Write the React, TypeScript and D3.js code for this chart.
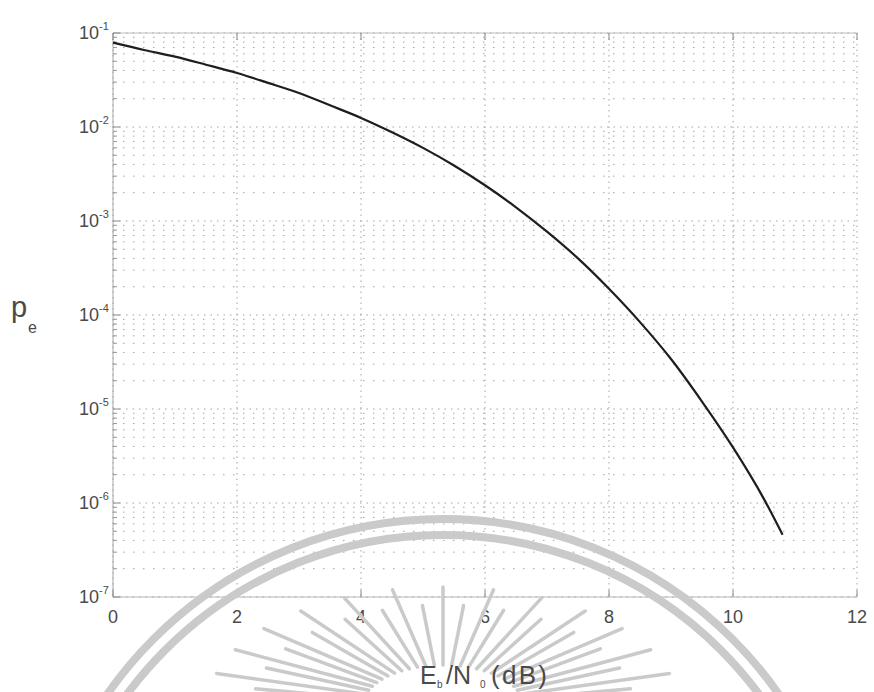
import React from "react";
import * as d3 from "d3";

const ebn0Db = [0, 0.5, 1, 1.5, 2, 2.5, 3, 3.5, 4, 4.5, 5, 5.5, 6, 6.5, 7, 7.5, 8, 8.5, 9, 9.5, 10, 10.5, 10.8];
const peValues = [7.9e-2, 6.6e-2, 5.6e-2, 4.6e-2, 3.75e-2, 2.95e-2, 2.3e-2, 1.7e-2, 1.25e-2, 8.8e-3, 6.0e-3, 3.9e-3, 2.4e-3, 1.4e-3, 7.7e-4, 4.0e-4, 1.9e-4, 8.4e-5, 3.4e-5, 1.2e-5, 3.9e-6, 1.1e-6, 4.6e-7];
const xTickValues = [0, 2, 4, 6, 8, 10, 12];
const yDecadeExponents = [-1, -2, -3, -4, -5, -6, -7];

const W = 874;
const H = 692;
const left = 113, right = 857, top = 33, bottom = 597;

export default function App() {
  const x = d3.scaleLinear().domain([0, 12]).range([left, right]);
  const y = d3.scaleLog().domain([1e-7, 1e-1]).range([bottom, top]);

  const pts = ebn0Db.map((d, i) => [d, peValues[i]] as [number, number]);
  const line = d3.line<[number, number]>().x(d => x(d[0])).y(d => y(d[1])).curve(d3.curveMonotoneX);

  const minorVals: number[] = [];
  for (let e = -7; e < -1; e++) {
    for (let m = 2; m <= 9; m++) minorVals.push(m * Math.pow(10, e));
  }
  const majorVals = yDecadeExponents.map(e => Math.pow(10, e));

  // watermark geometry
  const ringCx = 443, ringCy = 928;
  const rayCx = 443, rayCy = 705;
  const rays: { x1: number; y1: number; x2: number; y2: number }[] = [];
  const nRays = 29;
  for (let i = 0; i < nRays; i++) {
    const a = Math.PI + (Math.PI * (i + 0.5)) / nRays;
    const long = i % 2 === 0;
    const rxo = long ? 235 : 190, ryo = long ? 118 : 100;
    const rxi = 80, ryi = 40;
    rays.push({
      x1: rayCx + Math.cos(a) * rxi,
      y1: rayCy + Math.sin(a) * ryi,
      x2: rayCx + Math.cos(a) * rxo,
      y2: rayCy + Math.sin(a) * ryo,
    });
  }

  const gridColor = "#a2a2a2";
  const textColor = "#4a4a4a";
  const wm = "#cacaca";
  const font = "'Liberation Sans', Arial, Helvetica, sans-serif";

  return (
    <svg width={W} height={H} style={{ position: "absolute", left: 0, top: 0, background: "#fff" }} fontFamily={font}>
      <rect x={0} y={0} width={W} height={H} fill="#fff" />
      {minorVals.map((v, i) => (
        <line key={"mn" + i} x1={left} x2={right} y1={y(v)} y2={y(v)} stroke={gridColor} strokeWidth={1} strokeDasharray="1.5 8.5" />
      ))}
      {majorVals.map((v, i) => (
        <line key={"mj" + i} x1={left} x2={right} y1={y(v)} y2={y(v)} stroke={gridColor} strokeWidth={1} strokeDasharray="1.5 5" />
      ))}
      {xTickValues.map((v, i) => (
        <line key={"vg" + i} x1={x(v)} x2={x(v)} y1={top} y2={bottom} stroke={gridColor} strokeWidth={1} strokeDasharray="1.5 4" />
      ))}
      <line x1={left} x2={left} y1={top} y2={bottom} stroke="#a8a8a8" strokeWidth={1} />
      <line x1={left} x2={right} y1={bottom} y2={bottom} stroke="#b4b4b4" strokeWidth={1} />
      <line x1={left} x2={right} y1={top} y2={top} stroke="#bcbcbc" strokeWidth={1} />
      {xTickValues.map((v, i) => (
        <g key={"xt" + i}>
          <line x1={x(v)} x2={x(v)} y1={bottom} y2={bottom - 7} stroke="#888" strokeWidth={1} />
          <line x1={x(v)} x2={x(v)} y1={top} y2={top + 7} stroke="#888" strokeWidth={1} />
          <text x={x(v)} y={623} textAnchor="middle" fontSize={18} fill={textColor}>{v}</text>
        </g>
      ))}
      {minorVals.map((v, i) => (
        <line key={"ymt" + i} x1={left} x2={left + 4} y1={y(v)} y2={y(v)} stroke="#999" strokeWidth={1} />
      ))}
      {yDecadeExponents.map((e, i) => {
        const yy = y(Math.pow(10, e));
        return (
          <g key={"yt" + i}>
            <line x1={left} x2={left + 7} y1={yy} y2={yy} stroke="#888" strokeWidth={1} />
            <text x={79} y={yy + 6} fontSize={18} fill={textColor}>
              10
              <tspan dy={-9} fontSize={11}>{String(e)}</tspan>
            </text>
          </g>
        );
      })}
      <path d={line(pts) || ""} fill="none" stroke="#1e1e1e" strokeWidth={2.2} strokeLinejoin="round" />
      <text x={11} y={317} fontSize={29} fill={textColor}>p</text>
      <text x={28} y={333} fontSize={16} fill={textColor}>e</text>
      <g>
        <circle cx={ringCx} cy={ringCy} r={409} fill="none" stroke={wm} strokeWidth={8} />
        <circle cx={ringCx} cy={ringCy} r={393} fill="none" stroke={wm} strokeWidth={8} />
        {rays.map((r, i) => (
          <line key={"ray" + i} x1={r.x1} y1={r.y1} x2={r.x2} y2={r.y2} stroke={wm} strokeWidth={3.5} strokeLinecap="round" />
        ))}
      </g>
      <g fill={textColor}>
        <text x={420} y={684} fontSize={25}>E</text>
        <text x={437} y={688} fontSize={10}>b</text>
        <text x={446} y={684} fontSize={25}>/N</text>
        <text x={480} y={688} fontSize={10}>0</text>
        <text x={491} y={684} fontSize={26} textLength={56} lengthAdjust="spacing">(dB)</text>
      </g>
    </svg>
  );
}
